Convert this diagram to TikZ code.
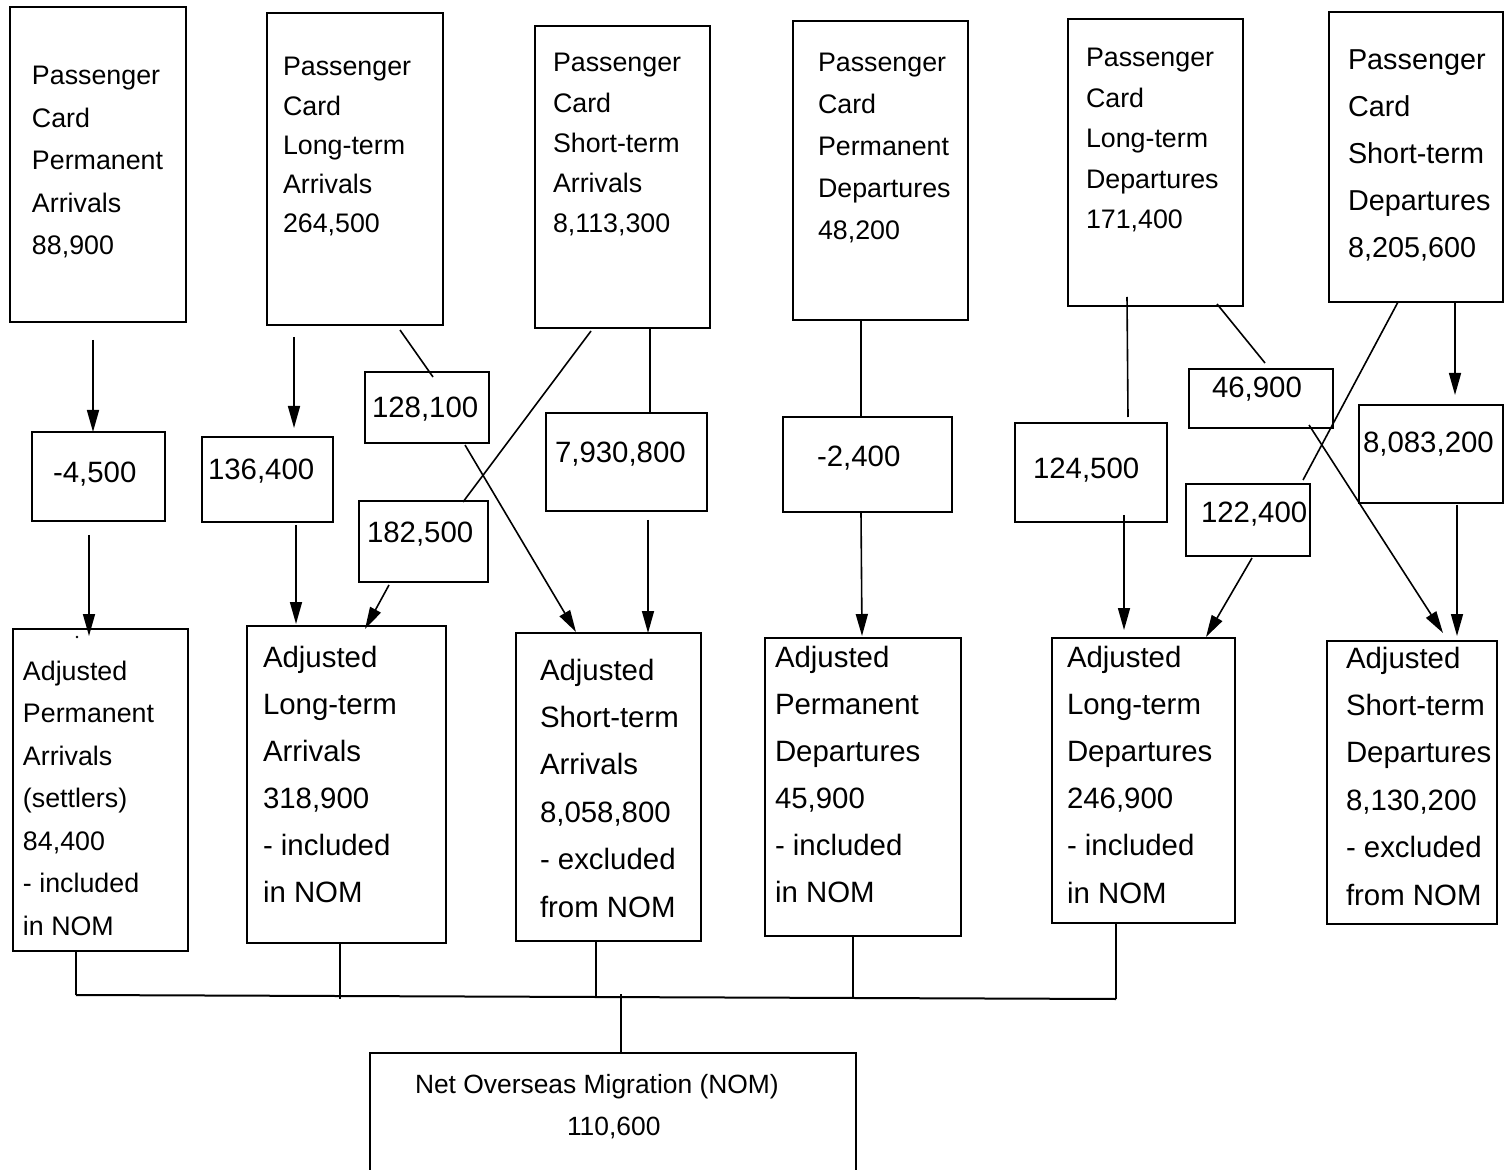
\documentclass[tikz,border=0pt]{standalone}
\usepackage{fontspec}
\setmainfont{Liberation Sans}
\usetikzlibrary{fit,calc,arrows.meta}
\tikzset{
  box/.style={draw, line width=1pt, inner sep=0pt, outer sep=0pt},
  txt/.style={anchor=north west, inner sep=0pt, outer sep=0pt, align=left},
  tf/.style 2 args={font=\fontsize{#1}{#2}\selectfont},
  midtxt/.style={anchor=base west, inner sep=0pt, outer sep=0pt, font=\fontsize{14.7pt}{17pt}\selectfont},
  con/.style={line width=0.8pt},
  arr/.style={con, -{Triangle[length=11pt,width=6pt]}},
  bus/.style={line width=1pt},
  tick/.style={line width=0.7pt},
}
\newcommand{\fl}{\rule{0pt}{12pt}}
\begin{document}
\begin{tikzpicture}[x=0.5pt,y=-0.5pt]
\useasboundingbox (0,0) rectangle (1504,1170);
\clip (0,0) rectangle (1504,1170);
% top boxes
\node[box, fit={(10,7) (186,322)}] (T1) {};
\node[box, fit={(267,13) (443,325)}] (T2) {};
\node[box, fit={(535,26) (710,328)}] (T3) {};
\node[box, fit={(793,21) (968,320)}] (T4) {};
\node[box, fit={(1068,19) (1243,306)}] (T5) {};
\node[box, fit={(1329,12) (1503,302)}] (T6) {};
\node[txt, tf={13.4pt}{21.25pt}] (T1t) at (32,61) {\fl Passenger\\Card\\Permanent\\Arrivals\\88,900};
\node[txt, tf={13.4pt}{19.6pt}] (T2t) at (283,52) {\fl Passenger\\Card\\Long-term\\Arrivals\\264,500};
\node[txt, tf={13.4pt}{20.1pt}] (T3t) at (553,48) {\fl Passenger\\Card\\Short-term\\Arrivals\\8,113,300};
\node[txt, tf={13.4pt}{21pt}] (T4t) at (818,48) {\fl Passenger\\Card\\Permanent\\Departures\\48,200};
\node[txt, tf={13.4pt}{20.25pt}] (T5t) at (1086,43) {\fl Passenger\\Card\\Long-term\\Departures\\171,400};
\node[txt, tf={14.4pt}{23.4pt}] (T6t) at (1348,46) {\fl Passenger\\Card\\Short-term\\Departures\\8,205,600};
% middle boxes
\node[box, fit={(32,432) (165,521)}] (M1) {};
\node[box, fit={(202,437) (333,522)}] (M2) {};
\node[box, fit={(365,372) (489,443)}] (M3) {};
\node[box, fit={(359,501) (488,582)}] (M4) {};
\node[box, fit={(546,413) (707,511)}] (M5) {};
\node[box, fit={(783,417) (952,512)}] (M6) {};
\node[box, fit={(1015,423) (1167,522)}] (M7) {};
\node[box, fit={(1189,369) (1333,428)}] (M8) {};
\node[box, fit={(1186,484) (1310,556)}] (M9) {};
\node[box, fit={(1359,405) (1503,503)}] (M10) {};
\node[midtxt] (M1t) at (53,483) {-4,500};
\node[midtxt] (M2t) at (208,480) {136,400};
\node[midtxt] (M3t) at (372,418) {128,100};
\node[midtxt] (M4t) at (367,543) {182,500};
\node[midtxt] (M5t) at (555,463) {7,930,800};
\node[midtxt] (M6t) at (817,467) {-2,400};
\node[midtxt] (M7t) at (1033,479) {124,500};
\node[midtxt] (M8t) at (1212,398) {46,900};
\node[midtxt] (M9t) at (1201,523) {122,400};
\node[midtxt] (M10t) at (1363,453) {8,083,200};
% adjusted boxes
\node[box, fit={(13,629) (188,951)}] (A1) {};
\node[box, fit={(247,626) (446,943)}] (A2) {};
\node[box, fit={(516,633) (701,941)}] (A3) {};
\node[box, fit={(765,638) (961,936)}] (A4) {};
\node[box, fit={(1052,638) (1235,923)}] (A5) {};
\node[box, fit={(1327,641) (1497,924)}] (A6) {};
\fill (77,637) circle (1.3);
\node[txt, tf={13.4pt}{21.25pt}] (A1t) at (23,656) {\fl Adjusted\\Permanent\\Arrivals\\(settlers)\\84,400\\- included\\in NOM};
\node[txt, tf={14.7pt}{23.5pt}] (A2t) at (263,643) {\fl Adjusted\\Long-term\\Arrivals\\318,900\\- included\\in NOM};
\node[txt, tf={14.7pt}{23.7pt}] (A3t) at (540,656) {\fl Adjusted\\Short-term\\Arrivals\\8,058,800\\- excluded\\from NOM};
\node[txt, tf={14.7pt}{23.5pt}] (A4t) at (775,643) {\fl Adjusted\\Permanent\\Departures\\45,900\\- included\\in NOM};
\node[txt, tf={14.7pt}{23.6pt}] (A5t) at (1067,643) {\fl Adjusted\\Long-term\\Departures\\246,900\\- included\\in NOM};
\node[txt, tf={14.7pt}{23.7pt}] (A6t) at (1346,644) {\fl Adjusted\\Short-term\\Departures\\8,130,200\\- excluded\\from NOM};
% NOM box
\node[box, fit={(370,1053) (856,1190)}] (NOM) {};
\node[txt, tf={13.2pt}{21pt}] (NOMt) at (415,1069) {\fl Net Overseas Migration (NOM)\\\hspace*{76pt}110,600};
% connectors
\draw[arr] ($(T1.south west)+(83,18)$) -- ($(M1.north west)+(61,0)$);
\draw[arr] ($(M1.south west)+(57,14)$) -- ($(A1.north west)+(76,7)$);
\draw[arr] ($(T2.south west)+(27,12)$) -- ($(M2.north west)+(92,-9)$);
\draw[arr] ($(M2.south west)+(94,3)$) -- ($(A2.north west)+(49,-2)$);
\draw[con] ($(T2.south west)+(133,5)$) -- ($(M3.north west)+(68,5)$);
\draw[arr] ($(M3.south west)+(100,2)$) -- ($(A3.north west)+(60,-1)$);
\draw[con] ($(T3.south west)+(56,3)$) -- ($(M4.north east)+(-25,1)$);
\draw[arr] ($(M4.south west)+(30,3)$) -- ($(A2.north west)+(118,3)$);
\draw[con] ($(T3.south west)+(115,0)$) -- ($(M5.north west)+(104,0)$);
\draw[arr] ($(M5.south west)+(102,9)$) -- ($(A3.north west)+(132,0)$);
\draw[con] ($(T4.south west)+(68,0)$) -- ($(M6.north west)+(78,0)$);
\draw[arr] ($(M6.south west)+(78,1)$) -- ($(A4.north west)+(97,-2)$);
\draw[con] ($(T5.south west)+(59,-9)$) -- ($(M7.north west)+(113,-6)$);
\draw[con] ($(T5.south west)+(149,-2)$) -- ($(M8.north west)+(76,-6)$);
\draw[arr] ($(M8.south west)+(120,-3)$) -- ($(A6.north west)+(116,-8)$);
\draw[con] ($(T6.south west)+(69,0)$) -- ($(M9.north west)+(117,-4)$);
\draw[arr] ($(M9.south west)+(66,2)$) -- ($(A5.north west)+(154,-1)$);
\draw[arr] ($(T6.south west)+(126,0)$) -- ($(M10.north west)+(96,-10)$);
\draw[arr] ($(M10.south west)+(98,2)$) -- ($(A6.north west)+(130,-5)$);
\draw[arr] ($(M7.south west)+(109,-7)$) -- ($(A5.north west)+(72,-8)$);
% bus to NOM
\coordinate (busL) at (76,995);
\coordinate (busR) at (1116,999);
\coordinate (busM) at (621,994);
\draw[bus] (busL) -- (busR);
\draw[tick] ($(A1.south west)+(63,0)$) -- (busL);
\draw[tick] ($(A2.south west)+(93,0)$) -- ++(0,56);
\draw[tick] ($(A3.south west)+(80,0)$) -- ++(0,55);
\draw[tick] ($(A4.south west)+(88,0)$) -- ++(0,61);
\draw[tick] ($(A5.south west)+(64,0)$) -- (busR);
\draw[tick] (busM) -- (busM |- NOM.north);
\end{tikzpicture}
\end{document}
